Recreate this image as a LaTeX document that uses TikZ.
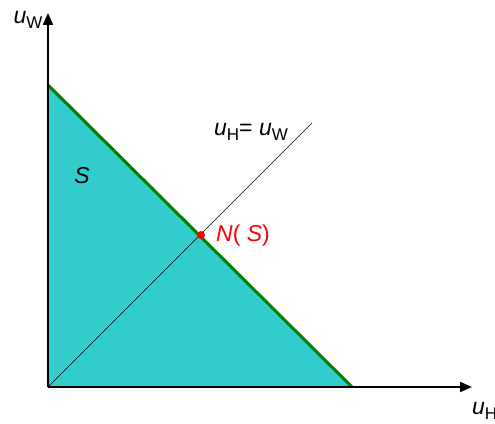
\documentclass[tikz,border=0pt]{standalone}
\usepackage{fontspec}
\setmainfont{Liberation Sans}
\usetikzlibrary{arrows.meta}
\definecolor{regioncyan}{RGB}{51,204,204}
\definecolor{frontgreen}{RGB}{0,128,0}
\newcommand{\bigtxt}{\fontsize{23}{27}\selectfont}
\newcommand{\subtxt}[1]{{\fontsize{17}{20}\selectfont\upshape\raisebox{-5pt}{#1}}}
\begin{document}
\begin{tikzpicture}[x=1pt,y=1pt,
  lbl/.style={inner sep=0pt,font=\bigtxt\itshape},
  axis/.style={-{Triangle[length=12pt,width=10pt]},line width=2pt}]
  \useasboundingbox (0,0) rectangle (495,423);

  \coordinate (O) at (48,36);
  \coordinate (top) at (48,338);
  \coordinate (right) at (352,36);
  \coordinate (ymax) at (48,410);
  \coordinate (xmax) at (472,36);
  \coordinate (diagend) at (312,300);

  %region
  \fill[regioncyan] (O) -- (top) -- (right) -- cycle;
  \draw[frontgreen,line width=3pt] (top) -- (right);

  %axes
  \draw[axis] (O) -- (ymax);
  \draw[axis] (O) -- (xmax);

  %diagonal
  \draw[line width=0.7pt] (O) -- (diagend);

  %nodes
  \node[circle,fill=red,inner sep=0pt,minimum size=8pt] (ns) at (201,188) {};
  \node[lbl,red,anchor=west] (nslbl) at (216,187) {N\upshape( \itshape S\upshape)};
  \node[lbl] (uw) at (28,403) {u\subtxt{W}};
  \node[lbl,anchor=west] (uh) at (472,12) {u\subtxt{H}};
  \node[lbl] (eq) at (251,291) {u\subtxt{H}\upshape= \itshape u\subtxt{W}};
  \node[lbl] (s) at (82,247) {S};
\end{tikzpicture}
\end{document}
